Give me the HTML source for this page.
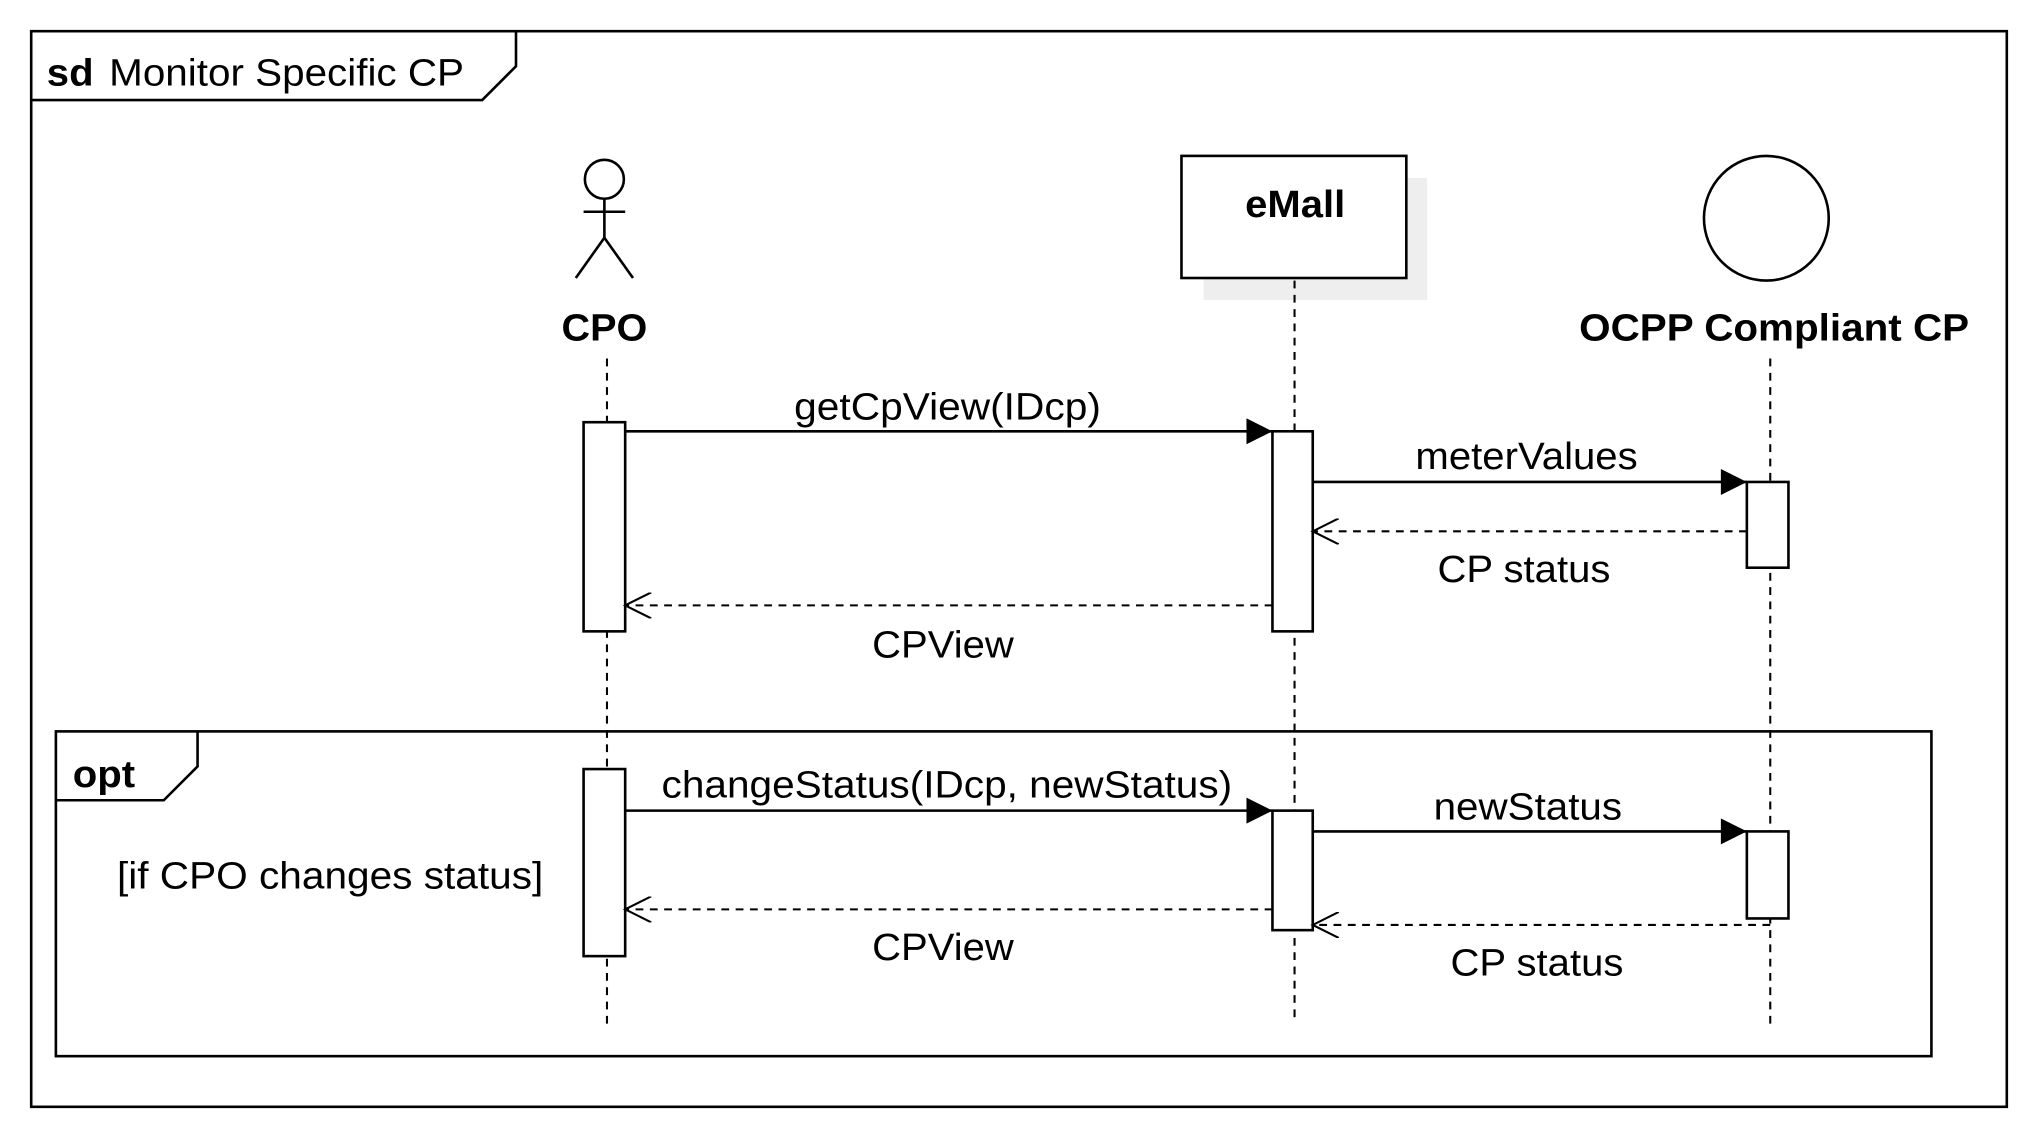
<!DOCTYPE html>
<html><head><meta charset="utf-8"><style>
html,body{margin:0;padding:0;background:#fff;}
svg{display:block;}
text{font-family:"Liberation Sans",Arial,sans-serif;fill:#000;}
</style></head><body>
<svg width="2038" height="1138" viewBox="0 0 1568 876" preserveAspectRatio="none" xmlns="http://www.w3.org/2000/svg">
<defs>
<marker id="f" viewBox="0 0 10 10" refX="10" refY="5" markerWidth="26" markerHeight="20" markerUnits="userSpaceOnUse" orient="auto"><path d="M0,0 L10,5 L0,10 z" fill="#000"/></marker>
<marker id="o" viewBox="0 0 10 10" refX="10" refY="5" markerWidth="26" markerHeight="20" markerUnits="userSpaceOnUse" orient="auto"><path d="M0,0 L10,5 L0,10" fill="none" stroke="#000" stroke-width="0.8"/></marker>
</defs>
<g stroke="#000" stroke-width="2" fill="none">
<rect x="24" y="24" width="1520" height="828"/>
<path d="M24,77 H371 L397,51 V24"/>
<rect x="43" y="563" width="1443" height="250"/>
<path d="M43,616 H126 L152,590 V563"/>
</g>
<text x="36" y="66" font-size="29" font-weight="bold" textLength="36" lengthAdjust="spacingAndGlyphs">sd</text>
<text x="84" y="66" font-size="29" textLength="273" lengthAdjust="spacingAndGlyphs">Monitor Specific CP</text>
<text x="56" y="606" font-size="29" font-weight="bold" textLength="48" lengthAdjust="spacingAndGlyphs">opt</text>
<text x="90" y="684" font-size="29" textLength="328" lengthAdjust="spacingAndGlyphs">[if CPO changes status]</text>
<g stroke="#000" stroke-width="2" fill="none">
<circle cx="465" cy="138" r="15"/>
<line x1="465" y1="153" x2="465" y2="183"/>
<line x1="449" y1="163" x2="481" y2="163"/>
<line x1="465" y1="183" x2="443" y2="214"/>
<line x1="465" y1="183" x2="487" y2="214"/>
</g>
<text x="432" y="262" font-size="29" font-weight="bold" textLength="66" lengthAdjust="spacingAndGlyphs">CPO</text>
<rect x="926" y="137" width="172" height="94" fill="#eee"/>
<rect x="909" y="120" width="173" height="94" fill="#fff" stroke="#000" stroke-width="2"/>
<text x="958" y="167" font-size="29" font-weight="bold" textLength="77" lengthAdjust="spacingAndGlyphs">eMall</text>
<circle cx="1359" cy="168" r="48" fill="none" stroke="#000" stroke-width="2"/>
<text x="1215" y="262" font-size="29" font-weight="bold" textLength="300" lengthAdjust="spacingAndGlyphs">OCPP Compliant CP</text>
<g stroke="#000" stroke-width="1.6" stroke-dasharray="6,5">
<line x1="467" y1="276" x2="467" y2="790"/>
<line x1="996" y1="216" x2="996" y2="785"/>
<line x1="1362" y1="276" x2="1362" y2="790"/>
</g>
<g fill="#fff" stroke="#000" stroke-width="2">
<rect x="449" y="325" width="32" height="161"/>
<rect x="979" y="332" width="31" height="154"/>
<rect x="1344" y="371" width="32" height="66"/>
<rect x="449" y="592" width="32" height="144"/>
<rect x="979" y="624" width="31" height="92"/>
<rect x="1344" y="640" width="32" height="67"/>
</g>
<g stroke="#000" stroke-width="2" fill="none">
<line x1="481" y1="332" x2="979" y2="332" marker-end="url(#f)"/>
<line x1="1010" y1="371" x2="1344" y2="371" marker-end="url(#f)"/>
<line x1="481" y1="624" x2="979" y2="624" marker-end="url(#f)"/>
<line x1="1010" y1="640" x2="1344" y2="640" marker-end="url(#f)"/>
</g>
<g stroke="#000" stroke-width="1.6" fill="none" stroke-dasharray="6,5">
<line x1="1344" y1="409" x2="1010" y2="409" marker-end="url(#o)"/>
<line x1="979" y1="466" x2="481" y2="466" marker-end="url(#o)"/>
<line x1="979" y1="700" x2="481" y2="700" marker-end="url(#o)"/>
<line x1="1362" y1="712" x2="1010" y2="712" marker-end="url(#o)"/>
</g>
<g font-size="29">
<text x="611" y="323" textLength="236" lengthAdjust="spacingAndGlyphs">getCpView(IDcp)</text>
<text x="1089" y="361" textLength="171" lengthAdjust="spacingAndGlyphs">meterValues</text>
<text x="1106" y="448" textLength="133" lengthAdjust="spacingAndGlyphs">CP status</text>
<text x="671" y="506" textLength="109" lengthAdjust="spacingAndGlyphs">CPView</text>
<text x="509" y="614" textLength="439" lengthAdjust="spacingAndGlyphs">changeStatus(IDcp, newStatus)</text>
<text x="1103" y="631" textLength="145" lengthAdjust="spacingAndGlyphs">newStatus</text>
<text x="671" y="739" textLength="109" lengthAdjust="spacingAndGlyphs">CPView</text>
<text x="1116" y="751" textLength="133" lengthAdjust="spacingAndGlyphs">CP status</text>
</g>
</svg>
</body></html>
